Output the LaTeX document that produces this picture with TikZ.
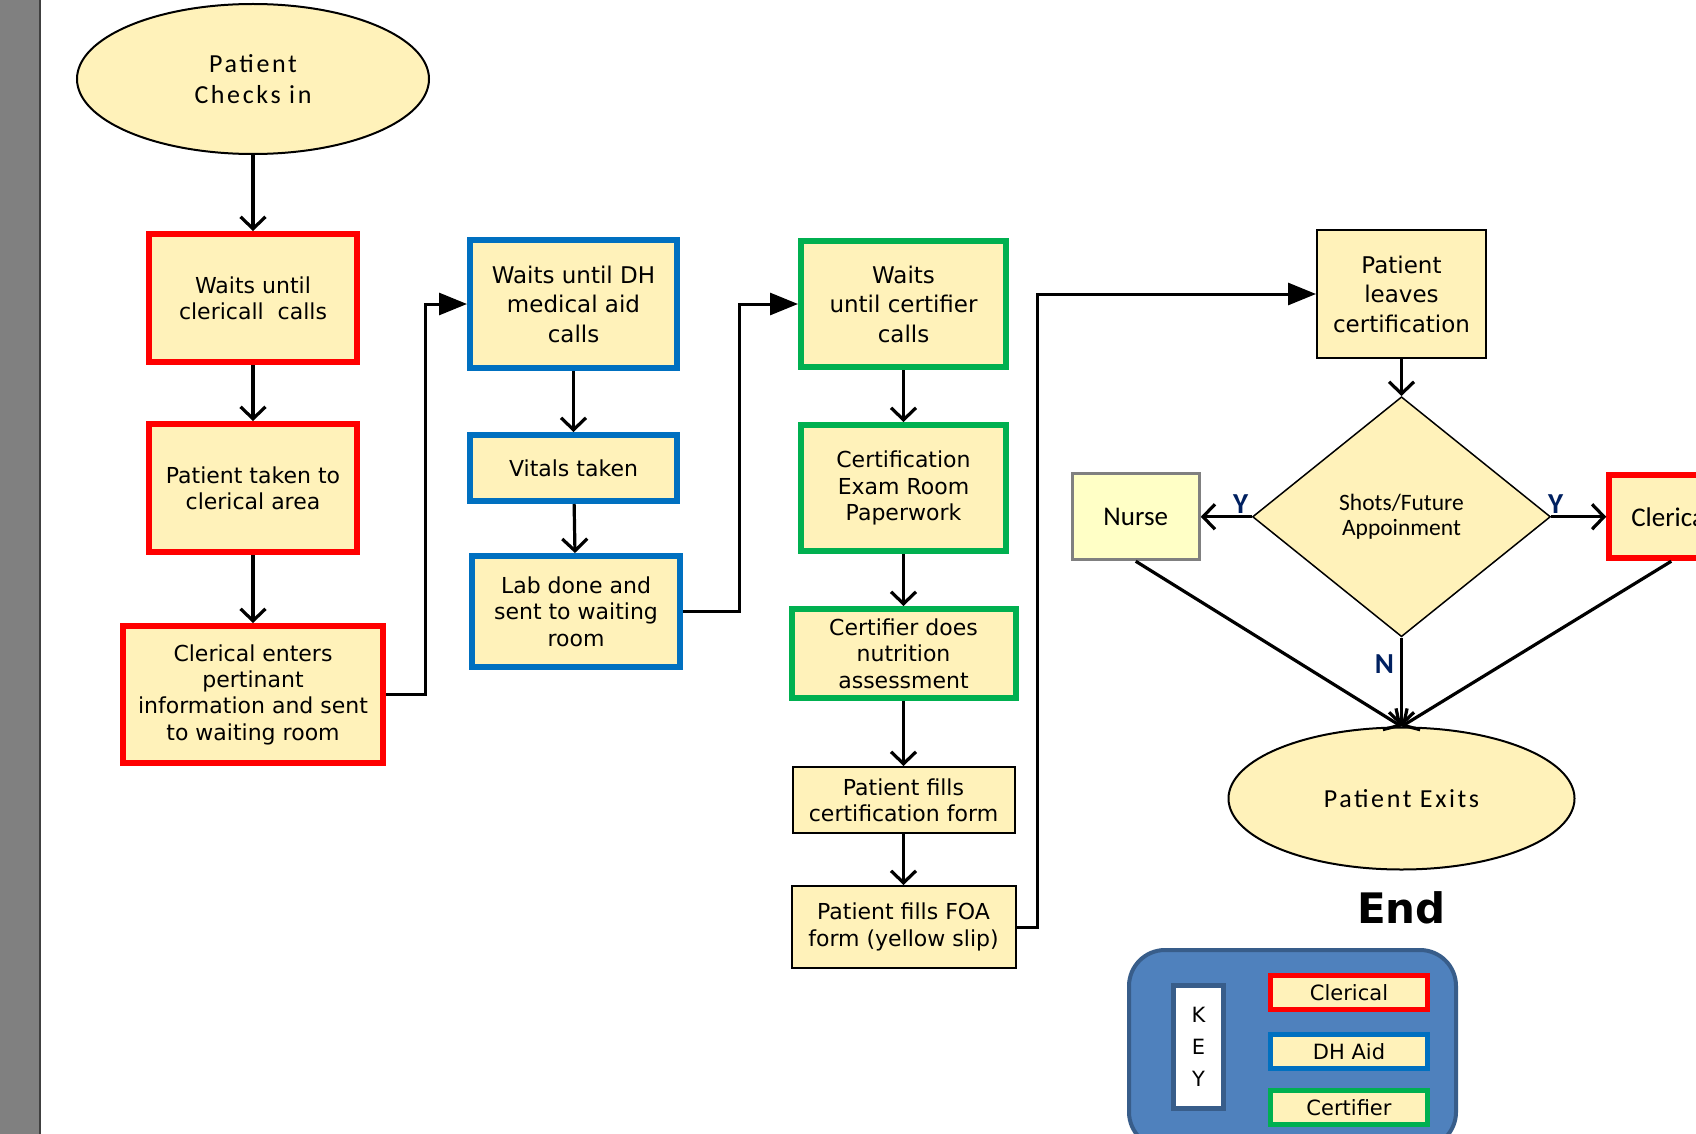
\documentclass[tikz,border=0pt]{standalone}
\usepackage{fontspec}
\setmainfont{DejaVu Sans}
\newfontfamily\calfont{Carlito}
\newfontfamily\calspaced[LetterSpace=10]{Carlito}
\usetikzlibrary{shapes.geometric, arrows.meta, positioning}
\definecolor{boxfill}{HTML}{FFF2BA}
\definecolor{nursefill}{HTML}{FFFFC6}
\definecolor{clrred}{HTML}{FF0000}
\definecolor{dhblue}{HTML}{0070C0}
\definecolor{cfgreen}{HTML}{00B050}
\definecolor{keyblue}{HTML}{4F81BD}
\definecolor{keyedge}{HTML}{385D8A}
\definecolor{ynblue}{HTML}{002060}
\definecolor{barcol}{HTML}{808080}
\newcommand{\boxfont}{\fontsize{22}{26.3}\selectfont}
\newcommand{\loosefont}{\fontsize{23}{29.5}\selectfont}
\newcommand{\termfont}{\calspaced\fontsize{26}{31}\selectfont}
\newcommand{\decfont}{\calfont\fontsize{23.5}{25}\selectfont}
\newcommand{\nursefont}{\calfont\fontsize{27}{30}\selectfont}
\newcommand{\answerfont}{\calfont\bfseries\fontsize{29}{31}\selectfont}
\newcommand{\finishfont}{\bfseries\fontsize{42}{48}\selectfont}
\newcommand{\legendfont}{\fontsize{21}{24}\selectfont}
\newcommand{\keyfont}{\fontsize{21}{32}\selectfont}
\tikzstyle{basebox} = [rectangle, fill=boxfill, align=center, font=\boxfont, inner sep=2pt]
\tikzstyle{clrbox} = [basebox, draw=clrred, line width=6pt]
\tikzstyle{dhbox} = [basebox, draw=dhblue, line width=6pt]
\tikzstyle{cfbox} = [basebox, draw=cfgreen, line width=6pt]
\tikzstyle{ptbox} = [basebox, draw=black, line width=2pt]
\tikzstyle{nursebox} = [basebox, fill=nursefill, draw=black!50, line width=3pt, font=\nursefont]
\tikzstyle{terminal} = [ellipse, draw, fill=boxfill, line width=2pt, align=center, font=\termfont]
\tikzstyle{decision} = [diamond, draw, fill=boxfill, line width=1.5pt, align=center, font=\decfont, inner sep=0pt]
\tikzstyle{answer} = [font=\answerfont, text=ynblue, inner sep=0pt]
\tikzstyle{keybg} = [rectangle, rounded corners=36pt, draw=keyedge, fill=keyblue, line width=4pt]
\tikzstyle{keytag} = [rectangle, draw=keyedge, fill=white, line width=5pt, align=center, font=\keyfont]
\tikzstyle{legend} = [rectangle, fill=boxfill, line width=5pt, minimum width=157pt, minimum height=34pt, inner sep=0pt, font=\legendfont]
\tikzstyle{line} = [draw, line width=3.2pt, -{Straight Barb[length=12pt,width=25pt]}]
\tikzstyle{elbow} = [draw, line width=3pt, -{Triangle[length=28pt,width=22pt]}]

\begin{document}
\begin{tikzpicture}[x=1pt, y=1pt]
\useasboundingbox (0,0) rectangle (1696,-1134);
\clip (0,0) rectangle (1696,-1134);
% page edge on the left
\fill[barcol] (0,0) rectangle (39,-1134);
\draw[line width=2pt, black!75] (40,0) -- (40,-1134);

% clerical
\node [terminal, minimum width=352pt, minimum height=150pt] (start) at (253,-79) {Patient\\Checks in};
\node [clrbox, minimum width=208pt, minimum height=128pt, below=76pt of start] (clr1) {Waits until\\clericall\ \ calls};
\node [clrbox, minimum width=208pt, minimum height=128pt, below=56pt of clr1] (clr2) {Patient taken to\\clerical area};
\node [clrbox, minimum width=260pt, minimum height=137pt, below=68pt of clr2] (clr3) {Clerical enters\\pertinant\\information and sent\\to waiting room};
\path[line] (start) -- (clr1);
\path[line] (clr1) -- (clr2);
\path[line] (clr2) -- (clr3);

% DH aid
\node [dhbox, font=\loosefont, minimum width=207pt, minimum height=128pt] (dh1) at (573.5,-304) {Waits until DH\\medical aid\\calls};
\node [dhbox, minimum width=207pt, minimum height=66pt, below=61pt of dh1] (dh2) {Vitals taken};
\node [dhbox, minimum width=208pt, minimum height=111pt, below=49pt of dh2, xshift=2.5pt] (dh3) {Lab done and\\sent to waiting\\room};
\path[elbow] (clr3.east) -- ++(39,0) |- (dh1.west);
\path[line] (dh1) -- (dh2);
\path[line] (dh2) -- (dh3);

% certifier
\node [cfbox, font=\loosefont, minimum width=205pt, minimum height=126pt] (cf1) at (903.5,-304) {Waits\\until certifier\\calls};
\node [cfbox, minimum width=205pt, minimum height=126pt, below=52pt of cf1] (cf2) {Certification\\Exam Room\\Paperwork};
\node [cfbox, minimum width=224pt, minimum height=89pt, below=52pt of cf2] (cf3) {Certifier does\\nutrition\\assessment};
\node [ptbox, minimum width=222pt, minimum height=66pt, below=65pt of cf3] (pt1) {Patient fills\\certification form};
\node [ptbox, minimum width=224pt, minimum height=82pt, below=51pt of pt1] (pt2) {Patient fills FOA\\form (yellow slip)};
\path[elbow] (dh3.east) -- ++(56,0) |- (cf1.west);
\path[line] (cf1) -- (cf2);
\path[line] (cf2) -- (cf3);
\path[line] (cf3) -- (pt1);
\path[line] (pt1) -- (pt2);

% leaving
\node [ptbox, font=\loosefont, minimum width=169pt, minimum height=128pt] (leave) at (1401.5,-294) {Patient\\leaves\\certification};
\node [decision, minimum width=298pt, minimum height=240pt, below=37pt of leave] (dia) {Shots/Future\\Appoinment};
\node [nursebox, minimum width=127pt, minimum height=86pt, left=51pt of dia] (nurse) {Nurse};
\node [clrbox, font=\nursefont, minimum width=124pt, minimum height=83pt, right=55pt of dia] (clerk) {Clerical};
\node [terminal, minimum width=346pt, minimum height=142pt, below=89pt of dia] (exit) {Patient Exits};
\node [below=21pt of exit, inner sep=0pt, font=\finishfont] (finish) {End};
\path[elbow] (pt2.east) -- ++(21,0) |- (leave.west);
\path[line] (leave) -- (dia);
\path[line] (dia.west) -- node[answer, pos=0.22, above=2pt] {Y} (nurse.east);
\path[line] (dia.east) -- node[answer, pos=0.08, above=2pt] {Y} (clerk.west);
\path[line] (dia.south) -- node[answer, pos=0.3, left=6pt] {N} (exit.north);
\path[line] (nurse.south) -- (exit.north);
\path[line] (clerk.south) -- (exit.north);

% key
\node [keybg, minimum width=327pt, minimum height=198pt] (key) at (1292.5,-1049) {};
\node [keytag, minimum width=50pt, minimum height=123pt] (keyname) at (1198.5,-1047) {K\\E\\Y};
\node [legend, draw=clrred] (keyclr) at (1349,-992.5) {Clerical};
\node [legend, draw=dhblue, below=20pt of keyclr] (keydh) {DH Aid};
\node [legend, draw=cfgreen, below=17pt of keydh] (keycf) {Certifier};
\end{tikzpicture}
\end{document}
